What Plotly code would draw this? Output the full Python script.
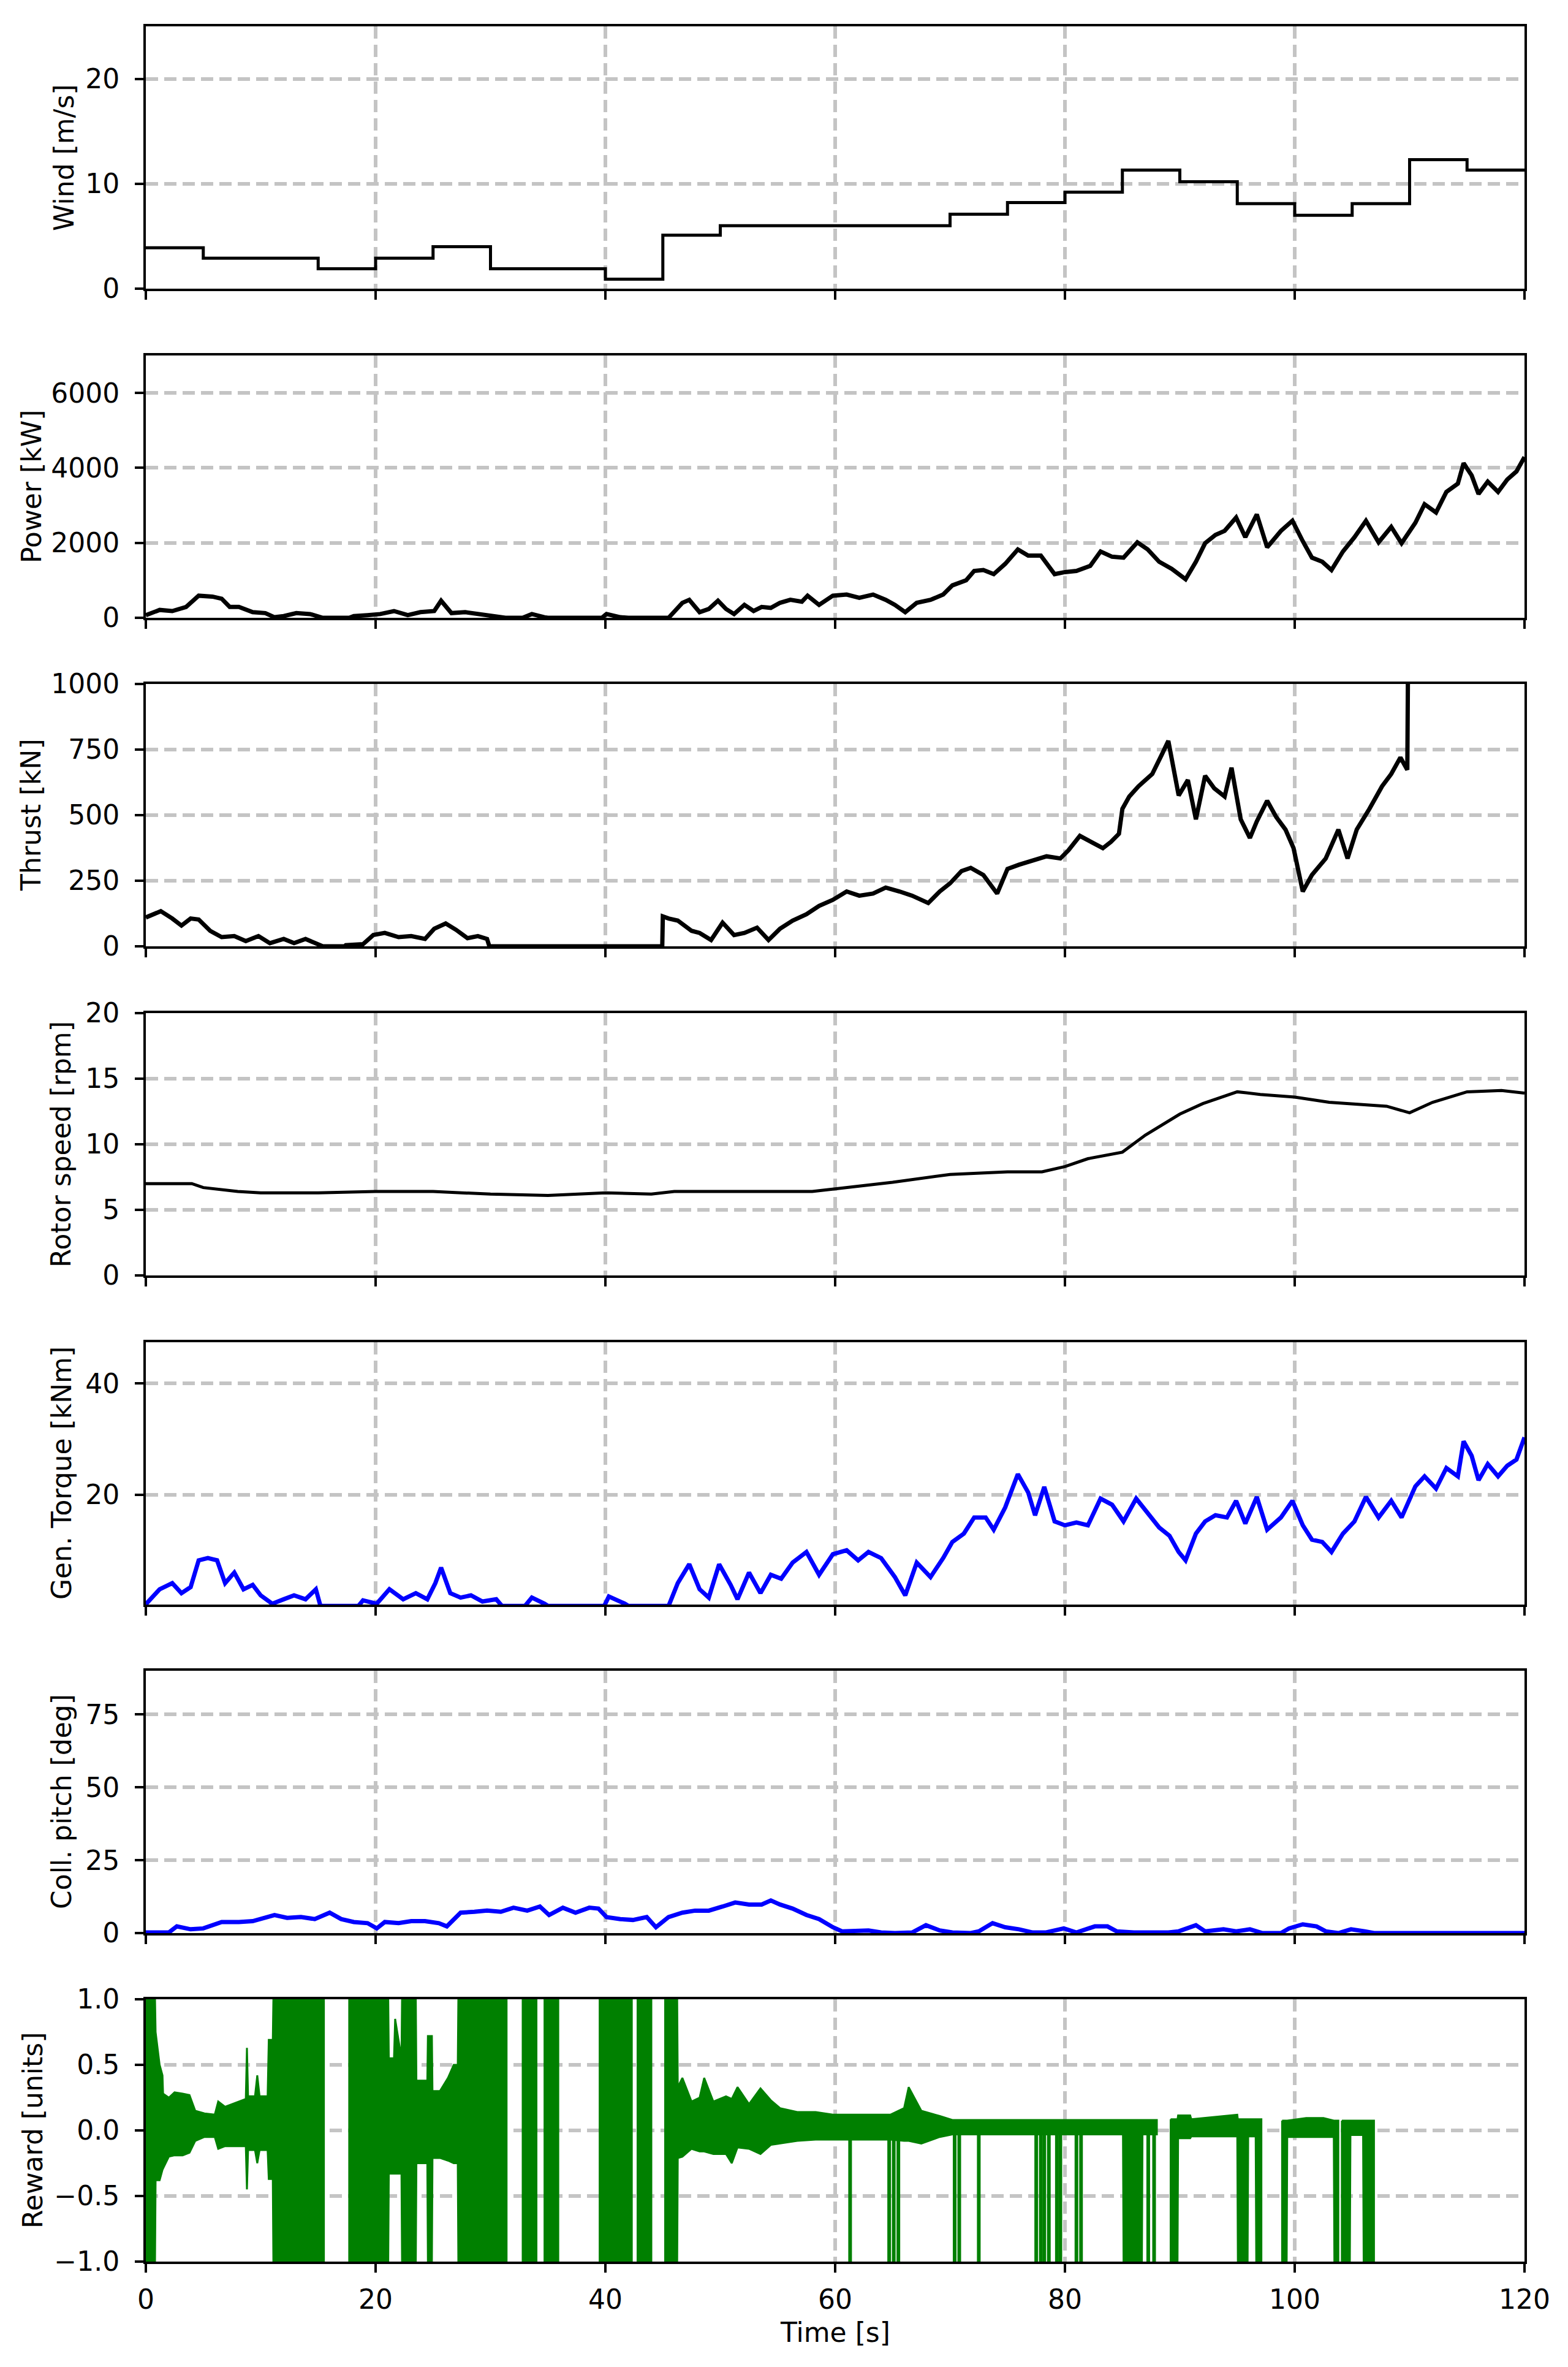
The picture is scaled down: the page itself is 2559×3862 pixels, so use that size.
import plotly.graph_objects as go

# ---------------- data ----------------
wind_t = [0, 5, 15, 20, 25, 30, 40, 45, 50, 70, 75, 80, 85, 90, 95, 100, 105, 110, 115, 120]
wind_v = [3.9, 2.9, 1.9, 2.9, 4.0, 1.9, 0.9, 5.1, 6.0, 7.1, 8.2, 9.2, 11.3, 10.2, 8.1, 7.0, 8.1, 12.3, 11.3, 11.3]

power_t = [0, 1.2, 2.3, 3.5, 4.6, 5.8, 6.6, 7.3, 8.1, 9.3, 10.4, 11.2, 12.0, 13.1, 14.3, 15.0, 15.4, 17.7,
           18.1, 19.3, 20.4, 21.6, 22.8, 23.9, 25.1, 25.7, 26.6, 27.8, 28.9, 30.1, 30.9, 31.3, 32.8, 33.6,
           34.7, 35.0, 39.7, 40.1, 41.3, 42.0, 45.5, 45.9, 46.7, 47.3, 48.2, 49.0, 49.8, 50.5, 51.2, 52.1,
           52.9, 53.6, 54.4, 55.2, 56.1, 57.1, 57.6, 58.6, 59.8, 61.0, 62.1, 63.3, 64.4, 65.2, 66.1, 67.1,
           68.3, 69.4, 70.2, 71.4, 72.1, 72.9, 73.8, 74.8, 75.9, 76.8, 77.9, 79.1, 80.0, 81.0, 82.2, 83.1,
           84.1, 85.1, 86.3, 87.2, 88.2, 89.3, 90.5, 91.4, 92.2, 93.1, 93.9, 94.9, 95.7, 96.7, 97.6, 98.8,
           99.8, 100.7, 101.5, 102.4, 103.2, 104.2, 105.2, 106.2, 107.3, 108.4, 109.3, 110.5, 111.3, 112.3,
           113.2, 114.2, 114.7, 115.4, 116.0, 116.8, 117.7, 118.5, 119.3, 120.0]
power_kw = [70, 210, 180, 290, 590, 565, 510, 290, 290, 150, 125, 15, 45, 125, 100, 45, 0, 0,
            45, 70, 100, 180, 70, 150, 180, 455, 125, 150, 100, 45, 15, 0, 0, 100,
            15, 0, 0, 100, 15, 0, 0, 125, 400, 480, 150, 235, 455, 235, 100, 345,
            180, 290, 265, 400, 480, 430, 590, 345, 590, 620, 535, 620, 480, 345, 150, 400,
            480, 620, 865, 1000, 1250, 1275, 1165, 1440, 1825, 1660, 1660, 1165, 1220, 1250, 1385, 1770,
            1630, 1605, 2015, 1825, 1495, 1305, 1030, 1495, 1990, 2210, 2320, 2675, 2150, 2760, 1880, 2320,
            2590, 2045, 1605, 1495, 1275, 1770, 2150, 2590, 2015, 2425, 1990, 2535, 3030, 2810,
            3360, 3580, 4125, 3800, 3305, 3635, 3360, 3690, 3905, 4290]

thrust_t = [0, 0.2, 1.3, 2.3, 3.1, 3.9, 4.6, 5.6, 6.6, 7.7, 8.7, 9.8, 10.8, 12.0, 12.9, 13.9, 14.8, 15.4,
            17.3, 17.4, 18.9, 19.8, 20.8, 22.0, 23.1, 24.3, 25.1, 26.1, 27.0, 28.0, 28.9, 29.7, 29.9, 44.95,
            45.0, 45.5, 46.3, 47.5, 48.2, 49.2, 50.2, 51.2, 52.1, 53.2, 54.2, 55.2, 56.3, 57.5, 58.6, 59.8,
            61.0, 62.1, 63.3, 64.4, 65.6, 66.7, 68.1, 69.1, 70.0, 71.0, 71.8, 72.9, 74.1, 75.0, 76.0, 77.2,
            78.4, 79.6, 80.3, 81.3, 82.2, 83.3, 84.0, 84.7, 85.0, 85.6, 86.4, 87.6, 88.4, 89.0, 89.9, 90.7,
            91.4, 92.2, 93.0, 93.9, 94.5, 95.3, 96.1, 96.7, 97.6, 98.4, 99.2, 99.9, 100.7, 101.5, 102.7,
            103.8, 104.6, 105.4, 106.5, 107.6, 108.4, 109.2, 109.8, 110.0, 120.0]
thrust_kn = [110, 114, 134, 106, 79, 106, 102, 59, 35, 39, 20, 39, 12, 28, 12, 28, 12, 0,
             0, 4, 8, 43, 51, 35, 39, 28, 67, 87, 63, 31, 39, 28, 0, 0,
             114, 106, 98, 59, 51, 24, 90, 43, 51, 71, 24, 67, 98, 122, 154, 177,
             209, 193, 201, 224, 209, 193, 165, 209, 240, 287, 299, 272, 201, 295, 311, 327,
             343, 335, 366, 421, 398, 374, 398, 429, 524, 571, 610, 657, 728, 783, 575, 634,
             484, 650, 602, 571, 681, 484, 413, 476, 555, 492, 445, 374, 209, 272, 335,
             445, 335, 445, 524, 610, 657, 720, 673, 2000, 2000]

rotor_t = [0, 4, 5, 8, 10, 15, 20, 25, 30, 35, 40, 44, 46, 50, 55, 58, 60, 63, 65, 70, 75, 78, 80,
           82, 85, 87, 90, 92, 95, 97, 100, 103, 105, 108, 110, 112, 115, 118, 120]
rotor_rpm = [7.0, 7.0, 6.7, 6.4, 6.3, 6.3, 6.4, 6.4, 6.2, 6.1, 6.3, 6.2, 6.4, 6.4, 6.4, 6.4, 6.6, 6.9, 7.1,
             7.7, 7.9, 7.9, 8.3, 8.9, 9.4, 10.7, 12.3, 13.1, 14.0, 13.8, 13.6, 13.2, 13.1, 12.9, 12.4,
             13.2, 14.0, 14.1, 13.9]

torque_t = [0, 1.2, 2.3, 3.1, 3.9, 4.6, 5.4, 6.2, 6.9, 7.7, 8.5, 9.3, 10.0, 11.0, 12.0, 12.9, 13.9, 14.8,
            15.2, 18.5, 18.9, 20.1, 21.2, 22.4, 23.5, 24.5, 25.2, 25.7, 26.5, 27.4, 28.3, 29.3, 30.5, 31.0,
            33.0, 33.6, 34.7, 35.0, 39.9, 40.3, 41.7, 42.0, 45.5, 46.3, 47.3, 48.2, 49.0, 49.9, 50.9, 51.5,
            52.5, 53.5, 54.4, 55.3, 56.3, 57.5, 58.6, 59.8, 61.0, 62.0, 62.9, 64.0, 65.2, 66.1, 67.1, 68.3,
            69.4, 70.2, 71.2, 72.1, 73.1, 73.8, 74.8, 75.9, 76.8, 77.4, 78.2, 79.1, 80.0, 81.0, 82.0, 83.1,
            84.1, 85.1, 86.2, 87.2, 88.2, 89.1, 89.9, 90.5, 91.4, 92.2, 93.1, 94.1, 94.9, 95.7, 96.7, 97.6,
            98.8, 99.8, 100.7, 101.5, 102.4, 103.2, 104.2, 105.2, 106.2, 107.3, 108.4, 109.3, 110.5, 111.3,
            112.3, 113.2, 114.2, 114.7, 115.4, 116.0, 116.8, 117.7, 118.5, 119.3, 120.0]
torque_knm = [0.3, 3.0, 4.1, 2.3, 3.4, 8.2, 8.6, 8.2, 4.1, 6.0, 3.0, 3.8, 1.9, 0.4, 1.2, 1.9, 1.2, 3.0,
              0, 0, 1.0, 0.4, 3.0, 1.2, 2.3, 1.2, 4.1, 6.9, 2.3, 1.5, 1.9, 0.8, 1.2, 0,
              0, 1.5, 0.4, 0, 0, 1.7, 0.4, 0, 0, 4.1, 7.5, 3.0, 1.5, 7.5, 3.8, 1.2,
              6.0, 2.3, 5.6, 4.9, 7.8, 9.7, 5.6, 9.3, 10.0, 8.2, 9.7, 8.6, 5.2, 1.9, 7.8, 5.2,
              8.6, 11.5, 13.0, 15.9, 15.9, 13.7, 17.7, 23.7, 20.4, 16.3, 21.4, 15.2, 14.5, 15.0, 14.5, 19.3,
              18.2, 15.2, 19.3, 16.7, 14.1, 12.6, 9.7, 8.2, 13.0, 15.2, 16.3, 15.9, 18.9, 14.8, 19.6, 13.7,
              15.9, 18.9, 14.5, 11.9, 11.5, 9.7, 13.0, 15.2, 19.6, 15.9, 18.9, 15.9, 21.5, 23.3,
              21.1, 24.8, 23.3, 29.6, 27.0, 22.6, 25.5, 23.3, 25.2, 26.3, 30.3]

pitch_t = [0, 2.0, 2.7, 3.9, 5.0, 6.6, 8.1, 9.3, 11.2, 12.3, 13.5, 14.7, 16.0, 17.0, 18.1, 19.3, 20.1, 20.8,
           22.0, 23.1, 24.3, 25.5, 26.2, 27.4, 28.6, 29.7, 30.9, 32.0, 33.2, 34.3, 35.1, 36.3, 37.4, 38.6,
           39.4, 40.1, 41.3, 42.4, 43.6, 44.4, 45.5, 46.7, 47.8, 49.0, 50.2, 51.3, 52.5, 53.6, 54.4, 55.2,
           56.3, 57.5, 58.6, 59.8, 60.6, 61.7, 62.9, 64.0, 65.2, 66.7, 67.9, 69.1, 70.2, 71.8, 72.5, 73.7,
           74.8, 76.0, 77.2, 78.3, 79.9, 81.0, 82.6, 83.7, 84.5, 86.0, 89.0, 89.9, 91.4, 92.2, 93.8, 94.9,
           96.1, 97.2, 98.8, 99.5, 100.7, 101.9, 102.7, 103.8, 104.9, 106.1, 106.9, 120.0]
pitch_deg = [0.2, 0.2, 2.3, 1.3, 1.6, 3.8, 3.8, 4.1, 6.2, 5.2, 5.5, 4.8, 7.0, 4.8, 3.8, 3.4, 1.6, 3.8,
             3.4, 4.1, 4.1, 3.4, 2.3, 7.0, 7.3, 7.7, 7.3, 8.7, 7.7, 9.1, 6.2, 8.7, 7.0, 8.7,
             8.4, 5.5, 4.8, 4.5, 5.5, 2.0, 5.5, 7.0, 7.7, 7.7, 9.1, 10.5, 9.8, 9.8, 11.2, 9.8,
             8.4, 6.2, 4.8, 2.0, 0.6, 0.9, 0.9, 0.2, 0, 0.2, 2.7, 0.9, 0.2, 0, 0.6, 3.4,
             2.0, 1.3, 0.2, 0.2, 1.6, 0.2, 2.3, 2.3, 0.6, 0.2, 0.2, 0.6, 2.7, 0.6, 1.3, 0.6,
             1.3, 0, 0, 1.6, 3.0, 2.3, 0.6, 0, 1.3, 0.6, 0, 0]

# reward: upper / lower envelope of the noisy trace, None marks a gap (off-range)
reward_t = [0.0, 0.8, 0.85, 1.2, 1.45, 1.5, 2.0, 2.5, 3.2, 3.8, 4.3, 5.1, 6.0, 6.3, 6.9, 7.5, 8.2, 8.7, 8.8,
            8.9, 9.5, 9.7, 9.9, 10.6, 10.7, 11.05, 11.1, 15.5, None,
            17.7, 21.1, 21.15, 21.6, 21.7, 22.25, 22.3, 23.5, 23.55, 24.5, 24.55, 24.9, 24.95, 25.6, 26.3,
            26.8, 27.15, 27.2, 31.4, None,
            32.8, 34.0, None, 34.7, 35.9, None, 39.5, 42.3, None, 42.8, 44.0, None,
            45.2, 46.25, 46.3, 46.7, 47.5, 48.2, 48.6, 49.4, 50.5, 51.0, 51.5, 52.5, 53.5, 54.4, 55.2, 56.7,
            58.3, 59.8, 64.8, 66.0, 66.4, 67.5, 69.1, 70.2, 85.05, 85.1, 86.7, 86.75, 88.0, None,
            89.2, 89.8, 89.85, 90.9, 91.0, 95.0, 95.05, 95.9, 95.95, 96.6, 96.65, 97.1, None,
            98.9, 99.3, 99.35, 101.0, 102.5, 103.4, 103.45, 103.8, None,
            104.1, 104.8, 104.85, 105.95, 106.0, 106.9]
reward_hi = [1.0, 1.0, 0.75, 0.5, 0.42, 0.28, 0.25, 0.29, 0.28, 0.27, 0.15, 0.13, 0.12, 0.22, 0.18, 0.2, 0.22,
             0.24, 0.63, 0.26, 0.26, 0.42, 0.26, 0.26, 0.69, 0.69, 1.0, 1.0, None,
             1.0, 1.0, 0.55, 0.55, 0.85, 0.55, 1.0, 1.0, 0.38, 0.38, 0.72, 0.72, 0.3, 0.3, 0.4,
             0.5, 0.5, 1.0, 1.0, None,
             1.0, 1.0, None, 1.0, 1.0, None, 1.0, 1.0, None, 1.0, 1.0, None,
             1.0, 1.0, 0.33, 0.4, 0.22, 0.25, 0.4, 0.22, 0.26, 0.24, 0.33, 0.2, 0.32, 0.23, 0.17, 0.14,
             0.14, 0.12, 0.12, 0.17, 0.33, 0.15, 0.11, 0.08, 0.08, 0.08, 0.08, 0.08, 0.08, None,
             0.085, 0.085, 0.115, 0.115, 0.085, 0.12, 0.085, 0.085, 0.085, 0.085, 0.085, 0.085, None,
             0.075, 0.075, 0.075, 0.095, 0.095, 0.075, 0.075, 0.075, None,
             0.075, 0.075, 0.075, 0.075, 0.075, 0.075]
reward_lo = [-1.0, -1.0, -0.38, -0.38, -0.3, -0.29, -0.2, -0.19, -0.19, -0.17, -0.08, -0.05, -0.05, -0.14,
             -0.12, -0.12, -0.12, -0.12, -0.45, -0.15, -0.15, -0.25, -0.15, -0.15, -0.37, -0.37, -1.0, -1.0, None,
             -1.0, -1.0, -0.33, -0.33, -0.33, -0.33, -1.0, -1.0, -0.25, -0.25, -1.0, -1.0, -0.21, -0.21, -0.23,
             -0.25, -0.25, -1.0, -1.0, None,
             -1.0, -1.0, None, -1.0, -1.0, None, -1.0, -1.0, None, -1.0, -1.0, None,
             -1.0, -1.0, -0.21, -0.2, -0.14, -0.16, -0.16, -0.18, -0.18, -0.25, -0.13, -0.14, -0.18, -0.11,
             -0.1, -0.08, -0.07, -0.07, -0.07, -0.08, -0.08, -0.1, -0.05, -0.03, -0.03, -1.0, -1.0, -0.03,
             -0.03, None,
             -1.0, -1.0, -0.06, -0.06, -0.045, -0.045, -1.0, -1.0, -0.045, -0.045, -1.0, -1.0, None,
             -1.0, -1.0, -0.05, -0.05, -0.05, -0.05, -1.0, -1.0, None,
             -1.0, -1.0, -0.035, -0.035, -1.0, -1.0]
# single downward reward spikes (to the -1 limit)
reward_spike_t = [61.3, 64.7, 65.1, 65.5, 70.4, 70.8, 72.5, 77.5, 77.9, 78.2, 78.6, 79.3, 79.6, 81.0,
                  81.4, 87.25, 87.76]
reward_spike_top = 0.05
reward_spike_bottom = -1.0

time_ticks = [0, 20, 40, 60, 80, 100, 120]

assert len(power_t) == len(power_kw)
assert len(thrust_t) == len(thrust_kn)
assert len(rotor_t) == len(rotor_rpm)
assert len(torque_t) == len(torque_knm)
assert len(pitch_t) == len(pitch_deg)
assert len(reward_t) == len(reward_hi) == len(reward_lo)

# ---------------- layout geometry ----------------
# the page body has an 8px margin, so the figure is drawn 8px in from the window edges
OFF = 8
W, H = 2559 - 2 * OFF, 3862 - 2 * OFF
PLOT_L, PLOT_R = 238 - OFF, 2488 - OFF
TOPS = [t - OFF for t in [43, 580, 1116, 1653, 2190, 2726, 3262]]
PH = 428
FONT = "DejaVu Sans"
FS = 44
GRID = "#c4c4c4"

panels = [
    dict(title="Wind [m/s]", range=[0, 25], tickvals=[0, 10, 20], ticktext=None, title_x=104),
    dict(title="Power [kW]", range=[0, 7000], tickvals=[0, 2000, 4000, 6000], ticktext=None, title_x=51),
    dict(title="Thrust [kN]", range=[0, 1000], tickvals=[0, 250, 500, 750, 1000], ticktext=None, title_x=51),
    dict(title="Rotor speed [rpm]", range=[0, 20], tickvals=[0, 5, 10, 15, 20], ticktext=None, title_x=100),
    dict(title="Gen. Torque [kNm]", range=[0.25, 47.4], tickvals=[20, 40], ticktext=None, title_x=100),
    dict(title="Coll. pitch [deg]", range=[0, 90], tickvals=[0, 25, 50, 75], ticktext=None, title_x=100),
    dict(title="Reward [units]", range=[-1, 1], tickvals=[-1, -0.5, 0, 0.5, 1],
         ticktext=["\u22121.0", "\u22120.5", "0.0", "0.5", "1.0"], title_x=53),
]

fig = go.Figure()


def ax(i):
    return ("x" if i == 0 else f"x{i+1}"), ("y" if i == 0 else f"y{i+1}")


series = [
    (wind_t, wind_v, "black", "hv", 5),
    (power_t, power_kw, "black", "linear", 7),
    (thrust_t, thrust_kn, "black", "linear", 7),
    (rotor_t, rotor_rpm, "black", "linear", 5),
    (torque_t, torque_knm, "#0000ff", "linear", 7),
    (pitch_t, pitch_deg, "#0000ff", "linear", 7),
]
for i, (tx, ty, col, shp, lw) in enumerate(series):
    xa, ya = ax(i)
    fig.add_trace(go.Scatter(x=tx, y=ty, mode="lines", xaxis=xa, yaxis=ya,
                             line=dict(color=col, width=lw, shape=shp), hoverinfo="skip"))

# reward: filled envelope segments
xa, ya = ax(6)
seg_t, seg_hi, seg_lo = [], [], []
for a, b, c in zip(reward_t + [None], reward_hi + [None], reward_lo + [None]):
    if a is None:
        if seg_t:
            fig.add_trace(go.Scatter(
                x=seg_t + seg_t[::-1] + [seg_t[0]],
                y=seg_hi + seg_lo[::-1] + [seg_hi[0]],
                mode="lines", fill="toself", fillcolor="#008000",
                line=dict(color="#008000", width=3), xaxis=xa, yaxis=ya, hoverinfo="skip"))
        seg_t, seg_hi, seg_lo = [], [], []
    else:
        seg_t.append(a)
        seg_hi.append(b)
        seg_lo.append(c)

sx, sy = [], []
for t in reward_spike_t:
    sx += [t, t, None]
    sy += [reward_spike_top, reward_spike_bottom, None]
fig.add_trace(go.Scatter(x=sx, y=sy, mode="lines", line=dict(color="#008000", width=6),
                         xaxis=xa, yaxis=ya, hoverinfo="skip"))

layout = dict(width=W, height=H, margin=dict(l=0, r=0, t=0, b=0, autoexpand=False),
              paper_bgcolor="white", plot_bgcolor="white", showlegend=False,
              font=dict(family=FONT, size=FS, color="black"))

annotations = []
for i, p in enumerate(panels):
    top = TOPS[i]
    ydom = [1 - (top + PH) / H, 1 - top / H]
    xkey = "xaxis" if i == 0 else f"xaxis{i+1}"
    ykey = "yaxis" if i == 0 else f"yaxis{i+1}"
    ya_name = "y" if i == 0 else f"y{i+1}"
    xa_name = "x" if i == 0 else f"x{i+1}"
    common = dict(showline=True, linecolor="black", linewidth=4, mirror=True,
                  ticks="outside", ticklen=14, tickwidth=4, tickcolor="black",
                  showgrid=True, gridcolor=GRID, gridwidth=6, griddash="20px,10px",
                  zeroline=False, automargin=False,
                  tickfont=dict(family=FONT, size=FS, color="black"))
    layout[xkey] = dict(common, domain=[PLOT_L / W, PLOT_R / W], anchor=ya_name,
                        range=[0, 120], tickmode="array", tickvals=time_ticks,
                        showticklabels=(i == 6), ticklabelstandoff=6)
    ydict = dict(common, domain=ydom, anchor=xa_name, range=p["range"], tickmode="array",
                 tickvals=p["tickvals"], ticklabelstandoff=16)
    if p["ticktext"]:
        ydict["ticktext"] = p["ticktext"]
    layout[ykey] = ydict
    annotations.append(dict(text=p["title"], x=(p["title_x"] - OFF) / W, y=1 - (top + PH / 2) / H,
                            xref="paper", yref="paper", xanchor="center", yanchor="middle",
                            textangle=-90, showarrow=False,
                            font=dict(family=FONT, size=FS, color="black")))

annotations.append(dict(text="Time [s]", x=(PLOT_L + PLOT_R) / 2 / W, y=1 - (3805 - OFF) / H,
                        xref="paper", yref="paper", xanchor="center", yanchor="middle",
                        showarrow=False, font=dict(family=FONT, size=FS, color="black")))
layout["annotations"] = annotations
fig.update_layout(**layout)

fig.write_html("out.html")
